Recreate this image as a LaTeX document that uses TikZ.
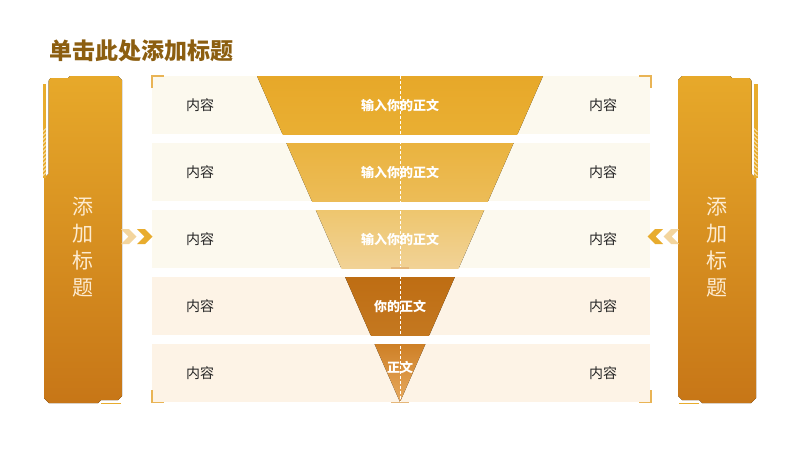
\documentclass[tikz,border=0pt]{standalone}
\usepackage{fontspec}
\setmainfont{Noto Sans CJK SC}
\usetikzlibrary{positioning,calc}

\definecolor{rowA}{HTML}{FCF9EE}
\definecolor{rowB}{HTML}{FDF3E6}
\definecolor{bandAt}{HTML}{E7A829}
\definecolor{bandAb}{HTML}{E9AF33}
\definecolor{bandBt}{HTML}{EAB33F}
\definecolor{bandBb}{HTML}{ECBC57}
\definecolor{bandCt}{HTML}{EEC66E}
\definecolor{bandCb}{HTML}{F1D296}
\definecolor{bandDt}{HTML}{BE6D13}
\definecolor{bandDb}{HTML}{C47820}
\definecolor{bandEt}{HTML}{CE8026}
\definecolor{bandEb}{HTML}{E7A95F}
\definecolor{paneltop}{HTML}{E7A92A}
\definecolor{panelmid}{HTML}{EBB64B}
\definecolor{panelbot}{HTML}{C77617}
\definecolor{gold}{HTML}{E8AC2E}
\definecolor{chevlight}{HTML}{F3D59E}
\definecolor{bracket}{HTML}{E9B455}
\definecolor{sidetext}{HTML}{FDEBD0}
\definecolor{titlecol}{HTML}{8C5E10}
\definecolor{apexmark}{HTML}{E5B77A}

\begin{document}
\begin{tikzpicture}
  [
  x=1pt, y=-1pt, line width=1pt,
  titlenode/.style={inner sep=0pt, font=\fontsize{23}{26}\selectfont\bfseries, text=titlecol},
  itemnode/.style={inner sep=0pt, font=\fontsize{14}{16}\selectfont, text=black!85},
  bandnode/.style={inner sep=0pt, font=\fontsize{13}{15}\selectfont\bfseries, text=white},
  sidenode/.style={align=center, inner sep=0pt, font=\fontsize{21}{27}\selectfont, text=sidetext},
  corner/.style={draw=bracket, line width=1.4pt},
  ]

  \useasboundingbox[fill=white] (0,0) rectangle (800,450);

  \node[titlenode, anchor=west] (title) at (49,51) {单击此处添加标题};

  % rows and funnel bands
  \foreach \i/\bg/\ctop/\cbot/\dy/\txt in {1/rowA/bandAt/bandAb/0/输入你的正文,
      2/rowA/bandBt/bandBb/0/输入你的正文, 3/rowA/bandCt/bandCb/0/输入你的正文,
      4/rowB/bandDt/bandDb/0/你的正文, 5/rowB/bandEt/bandEb/-6/正文} {
    \pgfmathsetmacro\t{76+67*(\i-1)}
    \fill[\bg] (152,\t) rectangle (650,\t+58);
    \begin{scope}
      \clip (257,76) -- (543,76) -- (400,402) -- cycle;
      \fill[top color=\ctop, bottom color=\cbot] (152,\t) rectangle (650,\t+58);
    \end{scope}
    \node[itemnode] (l\i) at (200,\t+29) {内容};
    \node[itemnode] (r\i) at (603,\t+29) {内容};
    \node[bandnode] (b\i) at (400,\t+29+\dy) {\txt};
  }

  \coordinate (ftop) at (400,76);
  \coordinate (apex) at (400,402);
  \draw[white, line width=0.7pt, dash pattern=on 3pt off 2pt] (ftop) -- (apex);
  \draw[apexmark, line width=1.2pt] (391,268) -- (409,268);
  \draw[apexmark, line width=1.2pt] (391,402.5) -- (409,402.5);

  % corner brackets
  \draw[corner] (152,88) -- (152,76) -- (164,76);
  \draw[corner] (639,76) -- (651,76) -- (651,88);
  \draw[corner] (152,390) -- (152,402.5) -- (164,402.5);
  \draw[corner] (639,402.5) -- (651,402.5) -- (651,390);

  % side panels, right one mirrored
  \foreach \m/\sh in {1/0pt, -1/800pt} {
    \begin{scope}[xshift=\sh, xscale=\m]
      \fill[top color=paneltop, middle color=panelmid, bottom color=panelbot]
        (48.5,81) -- (50.5,78) -- (68,78) -- (70,76) -- (118,76) -- (122,80)
        -- (122,396) -- (118,400) -- (101,400) -- (98,403) -- (49,403)
        -- (44,398) -- (44,178) -- (48.5,174) -- cycle;
      \fill[gold] (42.5,84) rectangle (46,178);
      \foreach \y in {132,136,...,176}
        \draw[white, line width=0.6pt] (42.5,\y) -- (46,\y-3.5);
      \draw[gold] (101,403.5) -- (121,403.5);
      \fill[chevlight] (121,229) -- (129,229) -- (136.5,236.5) -- (129,244)
        -- (121,244) -- (128.5,236.5) -- cycle;
      \fill[gold] (137,229) -- (145,229) -- (152.5,236.5) -- (145,244)
        -- (137,244) -- (144.5,236.5) -- cycle;
    \end{scope}
  }

  \node[sidenode] (lside) at (83,247) {添\\加\\标\\题};
  \node[sidenode] (rside) at (717,247) {添\\加\\标\\题};

\end{tikzpicture}
\end{document}
